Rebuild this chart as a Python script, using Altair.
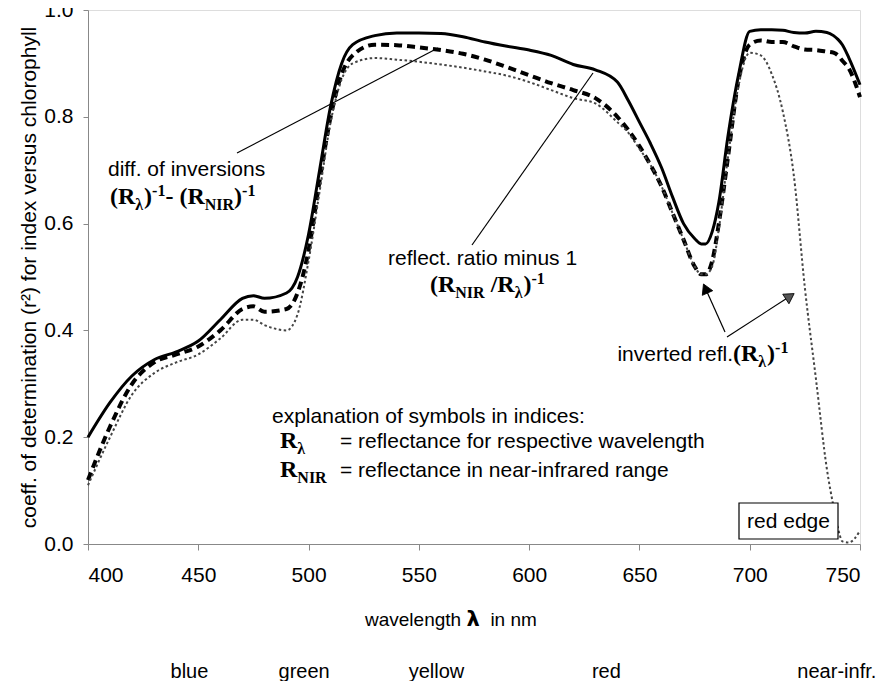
import altair as alt
import pandas as pd

# ---------------- data ----------------
wavelength = [400, 410, 420, 430, 440, 450, 460, 470, 475, 480, 490, 495, 500, 505, 510, 515, 520,
              530, 540, 550, 560, 570, 580, 590, 600, 610, 620, 630, 640, 645, 650, 655, 660, 665,
              670, 675, 678, 680, 683, 686, 690, 695, 700, 705, 710, 715, 720, 725, 730, 735, 738,
              740, 742, 745, 750]

ratio_minus_1 = [0.20, 0.265, 0.315, 0.345, 0.36, 0.38, 0.42, 0.46, 0.465, 0.46, 0.47, 0.50, 0.58,
                 0.70, 0.82, 0.90, 0.935, 0.952, 0.957, 0.957, 0.956, 0.95, 0.94, 0.932, 0.925,
                 0.915, 0.898, 0.888, 0.865, 0.83, 0.79, 0.75, 0.705, 0.65, 0.60, 0.572, 0.562,
                 0.562, 0.585, 0.64, 0.76, 0.88, 0.96, 0.963, 0.963, 0.962, 0.958, 0.957, 0.96,
                 0.958, 0.952, 0.945, 0.935, 0.91, 0.86]

diff_inversions = [0.12, 0.22, 0.30, 0.34, 0.355, 0.37, 0.40, 0.44, 0.445, 0.435, 0.44, 0.47, 0.55,
                   0.68, 0.80, 0.88, 0.915, 0.935, 0.934, 0.93, 0.925, 0.918, 0.907, 0.893, 0.878,
                   0.863, 0.85, 0.835, 0.80, 0.775, 0.745, 0.71, 0.67, 0.62, 0.57, 0.52, 0.505,
                   0.505, 0.53, 0.60, 0.72, 0.87, 0.935, 0.943, 0.94, 0.94, 0.932, 0.926, 0.925,
                   0.922, 0.92, 0.915, 0.905, 0.89, 0.837]

inverted_refl = [0.11, 0.20, 0.28, 0.32, 0.34, 0.355, 0.385, 0.42, 0.42, 0.41, 0.40, 0.43, 0.53,
                 0.66, 0.79, 0.87, 0.90, 0.91, 0.907, 0.903, 0.898, 0.892, 0.885, 0.877, 0.865,
                 0.85, 0.835, 0.825, 0.79, 0.77, 0.74, 0.71, 0.67, 0.62, 0.57, 0.52, 0.505,
                 0.505, 0.52, 0.59, 0.72, 0.86, 0.92, 0.915, 0.88, 0.81, 0.69, 0.48, 0.31,
                 0.14, 0.07, 0.03, 0.005, 0.003, 0.025]

x_ticks = [400, 450, 500, 550, 600, 650, 700, 750]
y_ticks = [0.0, 0.2, 0.4, 0.6, 0.8, 1.0]
band_names = ["blue", "green", "yellow", "red", "near-infr."]
band_centres = [446, 498, 558, 635, 739.5]

# ---------------- layout constants ----------------
SANS = "Liberation Sans"
SERIF = "Liberation Serif"
X0, X1 = 400, 750
W_PX, H_PX = 772, 534
LEFT, TOP = 88, 10          # page position of the plot area
PX_NM = W_PX / (X1 - X0)


def dx(px):
    return X0 + (px - LEFT) / PX_NM


def dy(py):
    return (TOP + H_PX - py) / H_PX


TB = {'(': 333, ')': 333, 'R': 722, 'N': 722, 'I': 389, '-': 333, ' ': 250, '1': 500,
      '/': 278, 'λ': 549}
AR = {'w': 722, 'a': 556, 'v': 500, 'e': 556, 'l': 222, 'n': 556, 'g': 556, 't': 278, 'h': 556,
      ' ': 278, 'i': 222, 'm': 833}


def formula(x_px, base_py, parts, base=24, small=16):
    rows = []
    x = x_px
    for text, kind in parts:
        size = base if kind == 'b' else small
        off = {'b': 0, 'sub': 6, 'sup': -8}[kind]
        rows.append({'x': dx(x), 'y': dy(base_py + off), 'text': text.strip(), 'size': size})
        x += sum(TB.get(c, 500) for c in text) / 1000 * size
        if text.startswith(' ') or text.startswith('- '):
            pass
    return rows


def formula_rows(x_px, base_py, parts, base=24, small=16):
    # handles leading spaces by advancing the pen instead of relying on whitespace
    rows = []
    x = x_px
    for text, kind in parts:
        size = base if kind == 'b' else small
        off = {'b': 0, 'sub': 6, 'sup': -8}[kind]
        lead = len(text) - len(text.lstrip(' '))
        x += lead * TB[' '] / 1000 * size
        body = text.lstrip(' ')
        # split internal spaces into separate pieces so SVG whitespace collapse cannot hurt
        pieces = body.split(' ')
        for k, p in enumerate(pieces):
            if p:
                rows.append({'x': dx(x), 'y': dy(base_py + off), 'text': p, 'size': size})
                x += sum(TB.get(c, 500) for c in p) / 1000 * size
            if k < len(pieces) - 1:
                x += TB[' '] / 1000 * size
    return rows


# ---------------- scales / axes ----------------
XS = alt.Scale(domain=[X0, X1], nice=False, zero=False)
YS = alt.Scale(domain=[0, 1], nice=False)
XAX = alt.Axis(values=x_ticks, title=None, grid=False, labelFont=SANS,
               labelFontSize=21, labelColor="black", tickSize=6, tickColor="#888",
               domainColor="#888", labelPadding=14)
YAX = alt.Axis(values=y_ticks, format=".1f",
               title="coeff. of determination (r²) for index versus chlorophyll",
               grid=False, labelFont=SANS, labelFontSize=21, labelColor="black", tickSize=5,
               tickColor="#888", domainColor="#888", labelPadding=10, titleFont=SANS,
               titleFontSize=21, titleFontWeight="normal", titleColor="black", titlePadding=4)


def X(f="x"):
    return alt.X(f"{f}:Q", scale=XS, axis=XAX)


def Y(f="y"):
    return alt.Y(f"{f}:Q", scale=YS, axis=YAX)


# ---------------- curves ----------------
def curve(vals, **kw):
    df = pd.DataFrame({"x": wavelength, "y": vals})
    return alt.Chart(df).mark_line(interpolate="monotone", **kw).encode(x=X(), y=Y())


solid = curve(ratio_minus_1, color="black", strokeWidth=3)
dashed = curve(diff_inversions, color="black", strokeWidth=4, strokeDash=[8, 5])
dotted = curve(inverted_refl, color="#444", strokeWidth=2, strokeDash=[2.5, 2.5])

# ---------------- pointer lines ----------------
pointers = pd.DataFrame([
    {"x": dx(237), "y": dy(153), "x2": dx(438), "y2": dy(48)},
    {"x": dx(472), "y": dy(245), "x2": dx(593), "y2": dy(73)},
    {"x": dx(725), "y": dy(332), "x2": dx(705.5), "y2": dy(288.5)},
    {"x": dx(727), "y": dy(337), "x2": dx(790), "y2": dy(296.3)},
])
pointer_layer = alt.Chart(pointers).mark_rule(color="black", strokeWidth=1.2).encode(
    x=X(), y=Y(), x2="x2:Q", y2="y2:Q")

heads = pd.DataFrame([
    {"x": dx(705.5), "y": dy(288.5), "a": 336, "fill": "black"},
    {"x": dx(790), "y": dy(296.3), "a": 57, "fill": "#555"},
])
head_layer = alt.Chart(heads).mark_point(shape="triangle-up", size=130, filled=True,
                                         stroke="black", strokeWidth=0.8, opacity=1).encode(
    x=X(), y=Y(), angle=alt.Angle("a:Q", scale=None), fill=alt.Fill("fill:N", scale=None))

# ---------------- sans text ----------------
sans_rows = pd.DataFrame([
    {"x": dx(108), "y": dy(176), "text": "diff. of inversions"},
    {"x": dx(388), "y": dy(265), "text": "reflect. ratio minus 1"},
    {"x": dx(272), "y": dy(423), "text": "explanation of symbols in indices:"},
    {"x": dx(340), "y": dy(448), "text": "= reflectance for respective wavelength"},
    {"x": dx(340), "y": dy(477), "text": "= reflectance in near-infrared range"},
])
sans_layer = alt.Chart(sans_rows).mark_text(font=SANS, fontSize=21, align="left",
                                            baseline="alphabetic", color="black").encode(
    x=X(), y=Y(), text="text:N")

inv_rows = pd.DataFrame([{"x": dx(733), "y": dy(361), "text": "inverted refl."}])
inv_layer = alt.Chart(inv_rows).mark_text(font=SANS, fontSize=21, align="right",
                                          baseline="alphabetic", color="black").encode(
    x=X(), y=Y(), text="text:N")

# ---------------- serif formulas ----------------
serif_rows = []
serif_rows += formula_rows(110, 204, [("(R", "b"), ("λ", "sub"), (")", "b"), ("-1", "sup"),
                                      ("- (R", "b"), ("NIR", "sub"), (")", "b"), ("-1", "sup")])
serif_rows += formula_rows(430, 292, [("(R", "b"), ("NIR", "sub"), (" /R", "b"), ("λ", "sub"),
                                      (")", "b"), ("-1", "sup")])
serif_rows += formula_rows(733, 361, [("(R", "b"), ("λ", "sub"), (")", "b"), ("-1", "sup")])
serif_rows += formula_rows(280, 448, [("R", "b"), ("λ", "sub")])
serif_rows += formula_rows(280, 477, [("R", "b"), ("NIR", "sub")])
serif_layer = alt.Chart(pd.DataFrame(serif_rows)).mark_text(
    font=SERIF, fontWeight="bold", align="left", baseline="alphabetic", color="black").encode(
    x=X(), y=Y(), text="text:N", size=alt.Size("size:Q", scale=None))

# ---------------- x-axis title: "wavelength λ  in nm" ----------------
TITLE_SIZE = 19
t_left = 365
w1 = sum(AR[c] for c in "wavelength ") / 1000 * TITLE_SIZE
title_rows = pd.DataFrame([
    {"x": dx(t_left), "text": "wavelength", "kind": "sans"},
    {"x": dx(t_left + w1), "text": "λ", "kind": "greek"},
    {"x": dx(t_left + w1 + 24), "text": "in nm", "kind": "sans"},
])
title_sans = alt.Chart(title_rows).transform_filter(alt.datum.kind == "sans").mark_text(
    font=SANS, fontSize=TITLE_SIZE, align="left", baseline="alphabetic", color="black").encode(
    x=X(), y=alt.value(616), text="text:N")
title_greek = alt.Chart(title_rows).transform_filter(alt.datum.kind == "greek").mark_text(
    font="DejaVu Sans", fontWeight="bold", fontSize=21, align="left", baseline="alphabetic",
    color="black").encode(x=X(), y=alt.value(616), text="text:N")

# ---------------- red edge box ----------------
box = pd.DataFrame([{"x": dx(739), "x2": dx(838), "y": dy(503), "y2": dy(539)}])
box_layer = alt.Chart(box).mark_rect(fill="white", stroke="black", strokeWidth=1.2).encode(
    x=X(), x2="x2:Q", y=Y(), y2="y2:Q")
box_text = alt.Chart(pd.DataFrame([{"x": dx(788.5), "y": dy(522), "text": "red edge"}])).mark_text(
    font=SANS, fontSize=21, align="center", baseline="middle", color="black").encode(
    x=X(), y=Y(), text="text:N")

# ---------------- spectral band names ----------------
bands = pd.DataFrame({"x": band_centres, "text": band_names})
band_layer = alt.Chart(bands).mark_text(font=SANS, fontSize=20, align="center",
                                        baseline="middle", color="black").encode(
    x=X(), y=alt.value(662), text="text:N")

chart = alt.layer(
    solid, dashed, dotted, pointer_layer, head_layer, sans_layer, inv_layer, serif_layer,
    title_sans, title_greek, box_layer, box_text, band_layer
).properties(
    width=W_PX, height=H_PX,
    autosize=alt.AutoSizeParams(type="none"),
    padding={"left": 80, "top": 2, "right": 17, "bottom": 137},
).configure_view(stroke="#888", strokeWidth=1.5).configure(background="white")

chart.save("out.html", embed_options={"renderer": "svg", "actions": False})
